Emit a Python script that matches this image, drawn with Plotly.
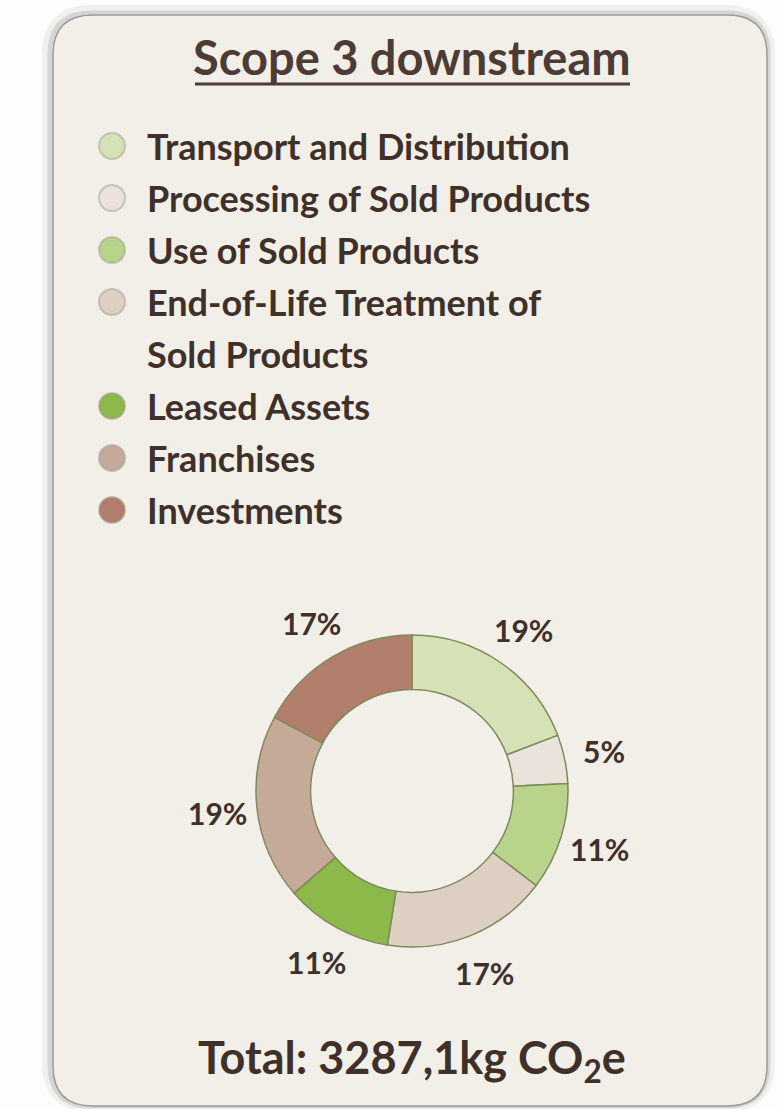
import numpy as np
import plotly.graph_objects as go

# ---------------- data ----------------
categories = [
    "Transport and Distribution",
    "Processing of Sold Products",
    "Use of Sold Products",
    "End-of-Life Treatment of Sold Products",
    "Leased Assets",
    "Franchises",
    "Investments",
]
legend_labels = [
    "Transport and Distribution",
    "Processing of Sold Products",
    "Use of Sold Products",
    "End-of-Life Treatment of<br>Sold Products",
    "Leased Assets",
    "Franchises",
    "Investments",
]
shares_pct = [19, 5, 11, 17, 11, 19, 17]
slice_colors = ["#d6e2b6", "#e9e3dc", "#b8d38a", "#ddd0c3", "#8db84a", "#c5aa9a", "#b07e6a"]
title_text = "Scope 3 downstream"
total_text = "Total: 3287,1kg CO<sub>2</sub>e"

# ---------------- layout helpers ----------------
W, H = 778, 1109
def px(x):
    return x / W
def py(y):
    return 1 - y / H

TEXT = "#3f302a"
FONT = "Lato"

def rrect_path(x0, y0, x1, y1, r):
    pts = [
        f"M {px(x0 + r)} {py(y0)}",
        f"L {px(x1 - r)} {py(y0)}",
        f"Q {px(x1)} {py(y0)} {px(x1)} {py(y0 + r)}",
        f"L {px(x1)} {py(y1 - r)}",
        f"Q {px(x1)} {py(y1)} {px(x1 - r)} {py(y1)}",
        f"L {px(x0 + r)} {py(y1)}",
        f"Q {px(x0)} {py(y1)} {px(x0)} {py(y1 - r)}",
        f"L {px(x0)} {py(y0 + r)}",
        f"Q {px(x0)} {py(y0)} {px(x0 + r)} {py(y0)}",
        "Z",
    ]
    return " ".join(pts)

shapes = []
# card shadow
shapes.append(dict(type="path", xref="paper", yref="paper",
                   path=rrect_path(48, 11, 769, 1106, 44),
                   line=dict(color="rgba(130,130,130,0.10)", width=12),
                   fillcolor="rgba(0,0,0,0)", layer="below"))
shapes.append(dict(type="path", xref="paper", yref="paper",
                   path=rrect_path(50, 13, 768, 1106, 42),
                   line=dict(color="rgba(120,120,120,0.22)", width=5),
                   fillcolor="rgba(0,0,0,0)", layer="below"))
# card
shapes.append(dict(type="path", xref="paper", yref="paper",
                   path=rrect_path(53, 15, 767, 1106, 40),
                   line=dict(color="#9c9a96", width=1.5),
                   fillcolor="#f2efe8", layer="below"))
# title underline
shapes.append(dict(type="line", xref="paper", yref="paper",
                   x0=px(195), x1=px(630), y0=py(84), y1=py(84),
                   line=dict(color="#4d3b35", width=3)))

annotations = []
annotations.append(dict(text=title_text, x=px(412), y=py(57), xref="paper", yref="paper",
                        xanchor="center", yanchor="middle", showarrow=False,
                        font=dict(family=FONT, size=47, color="#4d3b35", weight="bold")))

# legend (circle markers + labels)
row0, step = 146, 52
row = 0
mr = 13
for lab, col in zip(legend_labels, slice_colors):
    cy = row0 + row * step
    shapes.append(dict(type="circle", xref="paper", yref="paper",
                       x0=px(112 - mr), x1=px(112 + mr), y0=py(cy + mr), y1=py(cy - mr),
                       fillcolor=col, line=dict(color="rgba(160,155,145,0.5)", width=2)))
    for line in lab.split("<br>"):
        cy = row0 + row * step
        annotations.append(dict(text=line, x=px(145), y=py(cy), xref="paper", yref="paper",
                                xanchor="left", yanchor="middle", showarrow=False,
                                font=dict(family=FONT, size=36, color=TEXT, weight="bold")))
        row += 1

# donut geometry (pixels)
CX, CY, R = 412, 791, 156
LABEL_R = 196

vals = np.array(shares_pct, dtype=float)
cum = np.cumsum(vals)
mid = (cum - vals / 2) / vals.sum() * 2 * np.pi
for v, a in zip(shares_pct, mid):
    lx = CX + LABEL_R * np.sin(a)
    ly = CY - LABEL_R * np.cos(a)
    annotations.append(dict(text=f"{v}%", x=px(lx), y=py(ly), xref="paper", yref="paper",
                            xanchor="center", yanchor="middle", showarrow=False,
                            font=dict(family=FONT, size=30, color=TEXT, weight="bold")))

annotations.append(dict(text=total_text, x=px(412), y=py(1060), xref="paper", yref="paper",
                        xanchor="center", yanchor="middle", showarrow=False,
                        font=dict(family=FONT, size=45, color=TEXT, weight="bold")))

fig = go.Figure()
fig.add_trace(go.Pie(
    labels=categories, values=shares_pct, sort=False, direction="clockwise", rotation=0,
    hole=0.65, textinfo="none", hoverinfo="label+percent", showlegend=False,
    marker=dict(colors=slice_colors, line=dict(color="#7f8a5c", width=1.5)),
    domain=dict(x=[px(CX - R), px(CX + R)], y=[py(CY + R), py(CY - R)]),
))

fig.update_layout(
    width=W, height=H, margin=dict(l=0, r=0, t=0, b=0),
    paper_bgcolor="#fdfdfc", plot_bgcolor="#fdfdfc",
    shapes=shapes, annotations=annotations, showlegend=False,
)
fig.write_html("out.html", config={"displayModeBar": False},
               post_script="document.body.style.margin='0';document.body.style.overflow='hidden';")
